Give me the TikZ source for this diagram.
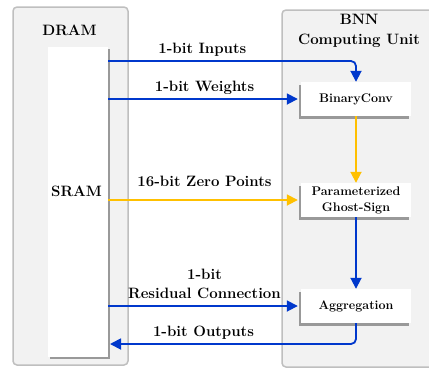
\documentclass[tikz,border=0pt]{standalone}
\usepackage{tikz}
\usetikzlibrary{positioning,shadows,arrows.meta}
\definecolor{wireblue}{RGB}{0,56,204}
\definecolor{wiregold}{RGB}{255,192,0}
\definecolor{framegray}{RGB}{191,191,191}
\definecolor{framefill}{RGB}{242,242,242}
\tikzset{
  >={Triangle[length=11pt,width=11pt]},
  node distance=101pt, % distance between the unit blocks
  memframe/.style={draw=framegray, fill=framefill, line width=1.5pt, rounded corners=4pt, inner sep=0pt},
  membank/.style={fill=white, inner sep=0pt, minimum width=60pt, minimum height=310pt,
    drop shadow={shadow xshift=2pt, shadow yshift=-2pt, fill=black!40, opacity=1}},
  unitblock/.style={fill=white, inner sep=0pt, minimum width=110pt, minimum height=34pt,
    font=\fontsize{12.5}{16}\selectfont\bfseries, align=center,
    drop shadow={shadow xshift=-2.5pt, shadow yshift=-2.5pt, fill=black!40, opacity=1}},
  titletext/.style={font=\fontsize{15}{20}\selectfont\bfseries, align=center},
  flowlabel/.style={font=\fontsize{15}{19}\selectfont\bfseries, align=center, text=black,
    above, inner sep=0pt, yshift=4pt, text depth=3pt},
  bluewire/.style={->, wireblue, line width=1.8pt, rounded corners=5pt},
  goldwire/.style={->, wiregold, line width=1.8pt},
}

\begin{document}
\begin{tikzpicture}[x=1pt,y=-1pt]
  \useasboundingbox (0,0) rectangle (429,368);
  % memory side
  \node[memframe, minimum width=115pt, minimum height=358pt] (dram) at (70.5,186) {};
  \node[titletext] (dramname) at (69.5,30) {DRAM};
  \node[membank] (sram) at (78,202) {};
  \node[titletext] (sramname) at (76.5,191) {SRAM};
  % compute side
  \node[memframe, minimum width=160pt, minimum height=357pt] (bnn) at (362,188.5) {};
  \node[titletext] (bnnname) at (359,31) {BNN\\Computing Unit};
  \node[unitblock] (conv) at (356,99) {BinaryConv};
  \node[unitblock, on grid, below=of conv] (ghost) {Parameterized\\Ghost-Sign};
  \node[unitblock, on grid, below=106pt of ghost] (agg) {Aggregation};
  % data flow
  \coordinate (feed) at (sram.east |- 0,61);
  \coordinate (sink) at (110,344);
  \draw[bluewire] (feed) -| node[flowlabel, pos=0.19] {1-bit Inputs} (conv.north);
  \draw[bluewire, shorten >=3pt] (sram.east |- conv.west) -- node[flowlabel] {1-bit Weights} (conv.west);
  \draw[goldwire, shorten >=3pt] (sram.east |- ghost.west) -- node[flowlabel, yshift=6pt] {16-bit Zero Points} (ghost.west);
  \draw[goldwire] (conv.south) -- (ghost.north);
  \draw[bluewire] (ghost.south) -- (agg.north);
  \draw[bluewire, shorten >=3pt] (sram.east |- agg.west) -- node[flowlabel] {1-bit\\Residual Connection} (agg.west);
  \draw[bluewire] (agg.south) |- node[flowlabel, pos=0.81] {1-bit Outputs} (sink);
\end{tikzpicture}
\end{document}
